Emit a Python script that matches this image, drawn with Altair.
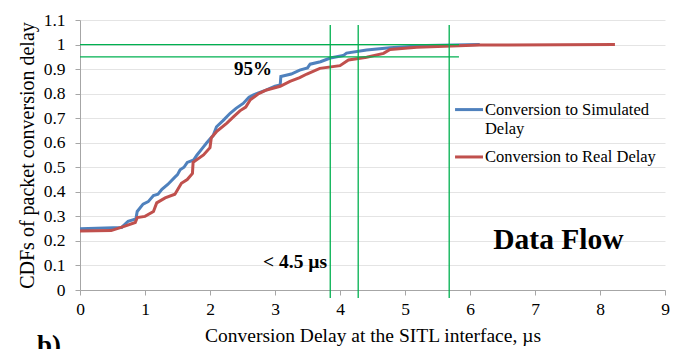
import altair as alt
import pandas as pd

# --- data ---
sim_x = [0, 0.64, 0.74, 0.86, 0.88, 0.97, 1.05, 1.13, 1.2, 1.26, 1.35, 1.46, 1.5, 1.54, 1.6, 1.65,
         1.75, 1.8, 1.89, 1.95, 2.05, 2.1, 2.2, 2.31, 2.4, 2.51, 2.6, 2.67, 2.87, 3.0, 3.08, 3.09,
         3.25, 3.38, 3.5, 3.54, 3.7, 3.85, 4.05, 4.1, 4.41, 4.77, 5.33, 6.15]
sim_y = [0.25, 0.255, 0.28, 0.29, 0.32, 0.35, 0.36, 0.385, 0.39, 0.41, 0.43, 0.46, 0.47, 0.49, 0.5, 0.52,
         0.53, 0.55, 0.58, 0.6, 0.63, 0.665, 0.69, 0.72, 0.74, 0.76, 0.785, 0.795, 0.815, 0.83, 0.835, 0.87,
         0.88, 0.896, 0.905, 0.92, 0.93, 0.945, 0.955, 0.965, 0.978, 0.987, 0.996, 1.0]

real_x = [0, 0.48, 0.69, 0.85, 0.88, 1.0, 1.13, 1.18, 1.31, 1.46, 1.56, 1.65, 1.73, 1.74, 1.9, 2.0,
          2.02, 2.1, 2.26, 2.36, 2.46, 2.55, 2.62, 2.75, 2.87, 3.08, 3.23, 3.38, 3.49, 3.69, 4.0, 4.13,
          4.41, 4.67, 4.77, 5.18, 6.15, 8.23]
real_y = [0.24, 0.242, 0.26, 0.275, 0.295, 0.30, 0.32, 0.355, 0.375, 0.39, 0.435, 0.45, 0.475, 0.52, 0.55, 0.58,
          0.62, 0.645, 0.68, 0.705, 0.73, 0.745, 0.775, 0.8, 0.815, 0.83, 0.85, 0.865, 0.88, 0.903, 0.914, 0.937,
          0.948, 0.964, 0.98, 0.989, 0.998, 1.0]

series = ["Conversion to Simulated Delay", "Conversion to Real Delay"]
colors = ["#4F81BD", "#C0504D"]

h_levels = [1.0, 0.95]
h_end = 5.83
v_marks = [3.85, 4.28, 5.68]

x_ticks = list(range(0, 10))
y_ticks = [0, 0.1, 0.2, 0.3, 0.4, 0.5, 0.6, 0.7, 0.8, 0.9, 1.0, 1.1]

FONT = "Liberation Serif"
GREEN = "#00B050"
AXC = "#A6A6A6"

rows = [{"x": a, "y": b, "s": series[0], "o": i} for i, (a, b) in enumerate(zip(sim_x, sim_y))]
rows += [{"x": a, "y": b, "s": series[1], "o": i} for i, (a, b) in enumerate(zip(real_x, real_y))]
df = pd.DataFrame(rows)

xs = alt.Scale(domain=[0, 9], nice=False)
ys = alt.Scale(domain=[0, 1.1], nice=False)
cs = alt.Scale(domain=series, range=colors)

x_axis = alt.Axis(values=x_ticks, title="Conversion Delay at the SITL interface, µs",
                  grid=False, format="d", labelOverlap=False, labelFlush=False,
                  labelFont=FONT, titleFont=FONT, labelFontSize=17.5, titleFontSize=19.5,
                  labelColor="black", titleColor="black", titleFontWeight="normal",
                  domainColor=AXC, tickColor=AXC, tickSize=5, labelPadding=5, titlePadding=9)
y_axis = alt.Axis(values=y_ticks, title="CDFs of packet conversion delay", format="~g",
                  labelOverlap=False, labelFlush=False,
                  labelFont=FONT, titleFont=FONT, labelFontSize=17.5, titleFontSize=20,
                  labelColor="black", titleColor="black", titleFontWeight="normal",
                  domainColor=AXC, tickColor=AXC, tickSize=5, labelPadding=10, titlePadding=6,
                  grid=True, gridColor="#E4E4E4", gridWidth=1)


def X(f):
    return alt.X(f, type="quantitative", scale=xs, axis=x_axis)


def Y(f):
    return alt.Y(f, type="quantitative", scale=ys, axis=y_axis)


lines = alt.Chart(df).mark_line(strokeWidth=3).encode(
    x=X("x"), y=Y("y"),
    color=alt.Color("s:N", scale=cs, legend=None),
    order="o:Q",
)

hdf = pd.DataFrame({"y": h_levels, "x0": [0] * len(h_levels), "x1": [h_end] * len(h_levels)})
hlines = alt.Chart(hdf).mark_rule(color=GREEN, strokeWidth=1.3).encode(
    x=X("x0"), x2="x1:Q", y=Y("y"))

vdf = pd.DataFrame({"x": v_marks})
vlines = alt.Chart(vdf).mark_rule(color=GREEN, strokeWidth=1.3).encode(
    x=X("x"), y=alt.value(5), y2=alt.value(278))

# annotations
ann = pd.DataFrame({
    "x": [2.66, 3.31],
    "y": [0.9, 0.114],
    "t": ["95%", "< 4.5 µs"],
    "fs": [19, 19.5],
})
ann_text = alt.Chart(ann).mark_text(font=FONT, fontWeight="bold", color="black",
                                    align="center", baseline="middle").encode(
    x=X("x"), y=Y("y"), text="t:N", size=alt.Size("fs:Q", scale=None, legend=None))

flow = alt.Chart(pd.DataFrame({"x": [7.36], "y": [0.205], "t": ["Data Flow"]})).mark_text(
    font=FONT, fontSize=29.5, fontWeight="bold", color="black", align="center", baseline="middle").encode(
    x=X("x"), y=Y("y"), text="t:N")

blabel = alt.Chart(pd.DataFrame({"x": [-0.66], "y": [-0.262], "t": ["b)"]})).mark_text(
    font=FONT, fontSize=27, fontWeight="bold", color="black", align="left", baseline="alphabetic",
    clip=False).encode(
    x=X("x"), y=Y("y"), text="t:N")

# manual legend (symbol aligned with first label line)
leg_sym = pd.DataFrame({"s": series, "y": [0.735, 0.542], "x0": [5.77, 5.77], "x1": [6.2, 6.2]})
legend_lines = alt.Chart(leg_sym).mark_rule(strokeWidth=3).encode(
    x=X("x0"), x2="x1:Q", y=Y("y"),
    color=alt.Color("s:N", scale=cs, legend=None))
leg_txt = pd.DataFrame({"x": [6.23, 6.23, 6.23], "y": [0.733, 0.656, 0.542],
                        "t": ["Conversion to Simulated", "Delay", "Conversion to Real Delay"]})
legend_text = alt.Chart(leg_txt).mark_text(font=FONT, fontSize=16.5, color="black",
                                           align="left", baseline="middle").encode(
    x=X("x"), y=Y("y"), text="t:N")

chart = alt.layer(lines, hlines, vlines, ann_text, flow, blabel, legend_lines, legend_text).properties(
    width=585, height=270,
    autosize=alt.AutoSizeParams(type="none"),
    padding={"left": 80, "top": 20, "right": 19, "bottom": 59},
    background="white",
).configure_view(stroke=None).configure_axis(labelFont=FONT, labelFontSize=17.5)

chart.save("out.html", embed_options={"renderer": "svg", "actions": False})
